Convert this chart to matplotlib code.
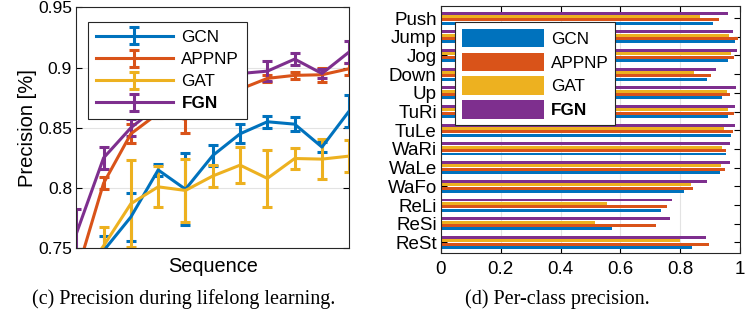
import matplotlib
matplotlib.use("Agg")
import matplotlib.pyplot as plt
import numpy as np

plt.rcParams['font.family'] = ['Liberation Sans', 'DejaVu Sans']

# left panel: precision along the sequence (mean and error)
seq = np.arange(1, 12)
gcn_mean = [0.720, 0.748, 0.776, 0.815, 0.799, 0.827, 0.845, 0.855, 0.853, 0.834, 0.864]
gcn_err = [0.010, 0.012, 0.020, 0.005, 0.030, 0.009, 0.008, 0.005, 0.006, 0.004, 0.013]
appnp_mean = [0.728, 0.804, 0.845, 0.862, 0.857, 0.872, 0.882, 0.891, 0.8935, 0.894, 0.899]
appnp_err = [0.010, 0.005, 0.008, 0.004, 0.011, 0.008, 0.007, 0.003, 0.003, 0.006, 0.005]
gat_mean = [0.720, 0.752, 0.787, 0.801, 0.798, 0.810, 0.819, 0.808, 0.8245, 0.824, 0.8265]
gat_err = [0.015, 0.016, 0.036, 0.017, 0.026, 0.009, 0.015, 0.0235, 0.0085, 0.0165, 0.0135]
fgn_mean = [0.762, 0.825, 0.850, 0.868, 0.885, 0.893, 0.895, 0.897, 0.907, 0.895, 0.913]
fgn_err = [0.021, 0.009, 0.007, 0.006, 0.006, 0.005, 0.006, 0.008, 0.005, 0.004, 0.009]

# right panel: per-class precision
classes = ['Push', 'Jump', 'Jog', 'Down', 'Up', 'TuRi', 'TuLe', 'WaRi', 'WaLe',
           'WaFo', 'ReLi', 'ReSi', 'ReSt']
gcn_cls = [0.911, 0.983, 0.959, 0.891, 0.941, 0.961, 0.969, 0.953, 0.934, 0.814, 0.736, 0.572, 0.838]
appnp_cls = [0.931, 0.994, 0.979, 0.902, 0.967, 0.981, 0.975, 0.953, 0.949, 0.843, 0.755, 0.719, 0.897]
gat_cls = [0.866, 0.964, 0.970, 0.847, 0.955, 0.959, 0.946, 0.940, 0.935, 0.835, 0.556, 0.515, 0.799]
fgn_cls = [0.961, 0.975, 0.991, 0.920, 0.987, 0.983, 0.983, 0.967, 0.967, 0.889, 0.774, 0.767, 0.887]

names = ['GCN', 'APPNP', 'GAT', 'FGN']
colors = ['#0072BD', '#D95319', '#EDB120', '#7E2F8E']

fig = plt.figure(figsize=(7.5, 3.12), dpi=100)

# ---- (c) ----
ax1 = fig.add_axes([0.1017, 0.2042, 0.3640, 0.7725])
series = [(gcn_mean, gcn_err), (appnp_mean, appnp_err), (gat_mean, gat_err), (fgn_mean, fgn_err)]
for (m, e), name, c in zip(series, names, colors):
    ax1.errorbar(seq, m, yerr=e, color=c, lw=2.2, elinewidth=2.2,
                 capsize=3.8, capthick=2.2, label=name)
ax1.set_xlim(1, 11)
ax1.set_ylim(0.75, 0.95)
ax1.set_xticks([])
ax1.set_yticks([0.75, 0.8, 0.85, 0.9, 0.95])
ax1.set_yticklabels(['0.75', '0.8', '0.85', '0.9', '0.95'])
ax1.yaxis.grid(True, color='#e3e3e3', lw=0.8)
ax1.set_axisbelow(True)
ax1.tick_params(axis='y', direction='in', right=True, labelsize=12.5, length=4, pad=3)
ax1.set_ylabel('Precision [%]', fontsize=14.5, labelpad=1)
ax1.set_xlabel('Sequence', fontsize=14.3, labelpad=6)
for s in ax1.spines.values():
    s.set_color('#262626')
leg1 = ax1.legend(loc='upper left', bbox_to_anchor=(0.044, 0.938), fontsize=12.3,
                  handlelength=4.5, fancybox=False, framealpha=1,
                  edgecolor='#262626', borderpad=0.45, labelspacing=0.42,
                  handletextpad=0.5, borderaxespad=0)
leg1.get_frame().set_linewidth(0.8)
leg1.get_texts()[3].set_fontweight('bold')

# ---- (d) ----
ax2 = fig.add_axes([0.5880, 0.1900, 0.3987, 0.7910])
ypos = np.arange(len(classes))[::-1] + 1
h = 0.16
cls_vals = [gcn_cls, appnp_cls, gat_cls, fgn_cls]
offsets = [-0.27, -0.09, 0.09, 0.27]
for vals, off, name, c in zip(cls_vals, offsets, names, colors):
    ax2.barh(ypos + off, vals, height=h, color=c, label=name)
ax2.set_xlim(0, 1)
ax2.set_ylim(0.45, 13.65)
ax2.set_yticks(ypos)
ax2.set_yticklabels(classes)
ax2.set_xticks([0, 0.2, 0.4, 0.6, 0.8, 1])
ax2.set_xticklabels(['0', '0.2', '0.4', '0.6', '0.8', '1'])
ax2.xaxis.grid(True, color='#e3e3e3', lw=0.8)
ax2.set_axisbelow(True)
ax2.tick_params(direction='in', right=True, top=True, labelsize=13.5, length=4, pad=3)
ax2.tick_params(axis='x', pad=6)
for s in ax2.spines.values():
    s.set_color('#262626')
leg2 = ax2.legend(loc='upper left', bbox_to_anchor=(0.047, 0.935), fontsize=12.3,
                  handlelength=4.8, handleheight=1.3, fancybox=False, framealpha=1,
                  edgecolor='#262626', borderpad=0.4, labelspacing=0.3,
                  handletextpad=0.4, borderaxespad=0)
leg2.get_frame().set_linewidth(0.8)
leg2.get_texts()[3].set_fontweight('bold')

# captions
fig.text(0.245, 0.042, '(c) Precision during lifelong learning.', ha='center', va='center',
         fontsize=14.5, family=['Liberation Serif', 'DejaVu Serif'])
fig.text(0.743, 0.042, '(d) Per-class precision.', ha='center', va='center',
         fontsize=14.5, family=['Liberation Serif', 'DejaVu Serif'])

fig.savefig('out.png', dpi=100)
